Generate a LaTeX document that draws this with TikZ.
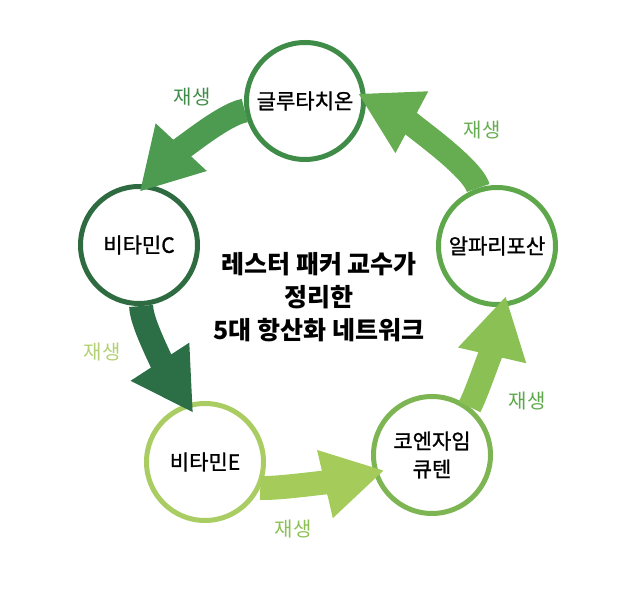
\documentclass[tikz,border=0pt]{standalone}
\usepackage{fontspec}
\newfontfamily\kr{Noto Sans CJK KR}
\newfontfamily\krmid[FakeBold=1.2]{Noto Sans CJK KR}
\usetikzlibrary{arrows.meta}
\definecolor{gluring}{HTML}{3F8C48}
\definecolor{vcring}{HTML}{2E6B40}
\definecolor{vering}{HTML}{A9CC63}
\definecolor{coqring}{HTML}{7DB552}
\definecolor{alaring}{HTML}{5EA84B}
\definecolor{glutovc}{HTML}{4C9B50}
\definecolor{vctove}{HTML}{2C6E46}
\definecolor{vetocoq}{HTML}{A5CC5A}
\definecolor{coqtoala}{HTML}{8AC054}
\definecolor{alatoglu}{HTML}{66AC50}
\begin{document}
\begin{tikzpicture}[x=1pt,y=1pt,
  ring/.style={circle,draw=#1,line width=5pt,fill=white,minimum size=117pt,inner sep=0pt,align=center,font=\krmid\fontsize{21}{28}\selectfont},
  flow/.style={draw=#1,line width=24pt,-{Triangle[length=60pt,width=70pt,line width=0pt]}},
  regen/.style={text=#1,font=\kr\fontsize{20}{20}\selectfont}]
\useasboundingbox (0,0) rectangle (634,597);
\node[ring=gluring] (glu) at (305,496) {글루타치온};
\node[ring=vcring] (vitC) at (139,352) {비타민C};
\node[ring=vering] (vitE) at (205,135) {비타민E};
\node[ring=coqring] (coq) at (432,142) {코엔자임\\큐텐};
\node[ring=alaring] (ala) at (497,351) {알파리포산};
\draw[flow=glutovc,shorten >=-9pt] (glu.189) .. controls +(190:25) and +(47:30) .. (vitC.83);
\draw[flow=vctove,shorten >=-10pt] (vitC.272) .. controls +(270:20) and +(123:25) .. (vitE.107);
\draw[flow=vetocoq,shorten >=-10pt] (vitE.335) .. controls +(-5:20) and +(193:20) .. (coq.197);
\draw[flow=coqtoala,shorten >=-10pt] (coq.52) .. controls +(62:20) and +(257:20) .. (ala.276);
\draw[flow=alatoglu,shorten >=-8pt] (ala.108) .. controls +(105:25) and +(332:25) .. (glu.3);
\node[regen=gluring] (r1) at (192,500) {재생};
\node[regen=alatoglu] (r2) at (482,467) {재생};
\node[regen=vering!90!white] (r3) at (102,245) {재생};
\node[regen=coqtoala] (r4) at (293,68) {재생};
\node[regen=alaring] (r5) at (527,196) {재생};
\node[font=\kr\bfseries\fontsize{25}{33}\selectfont,align=center] (title) at (319,300) {레스터 패커 교수가\\정리한\\5대 항산화 네트워크};
\end{tikzpicture}
\end{document}
